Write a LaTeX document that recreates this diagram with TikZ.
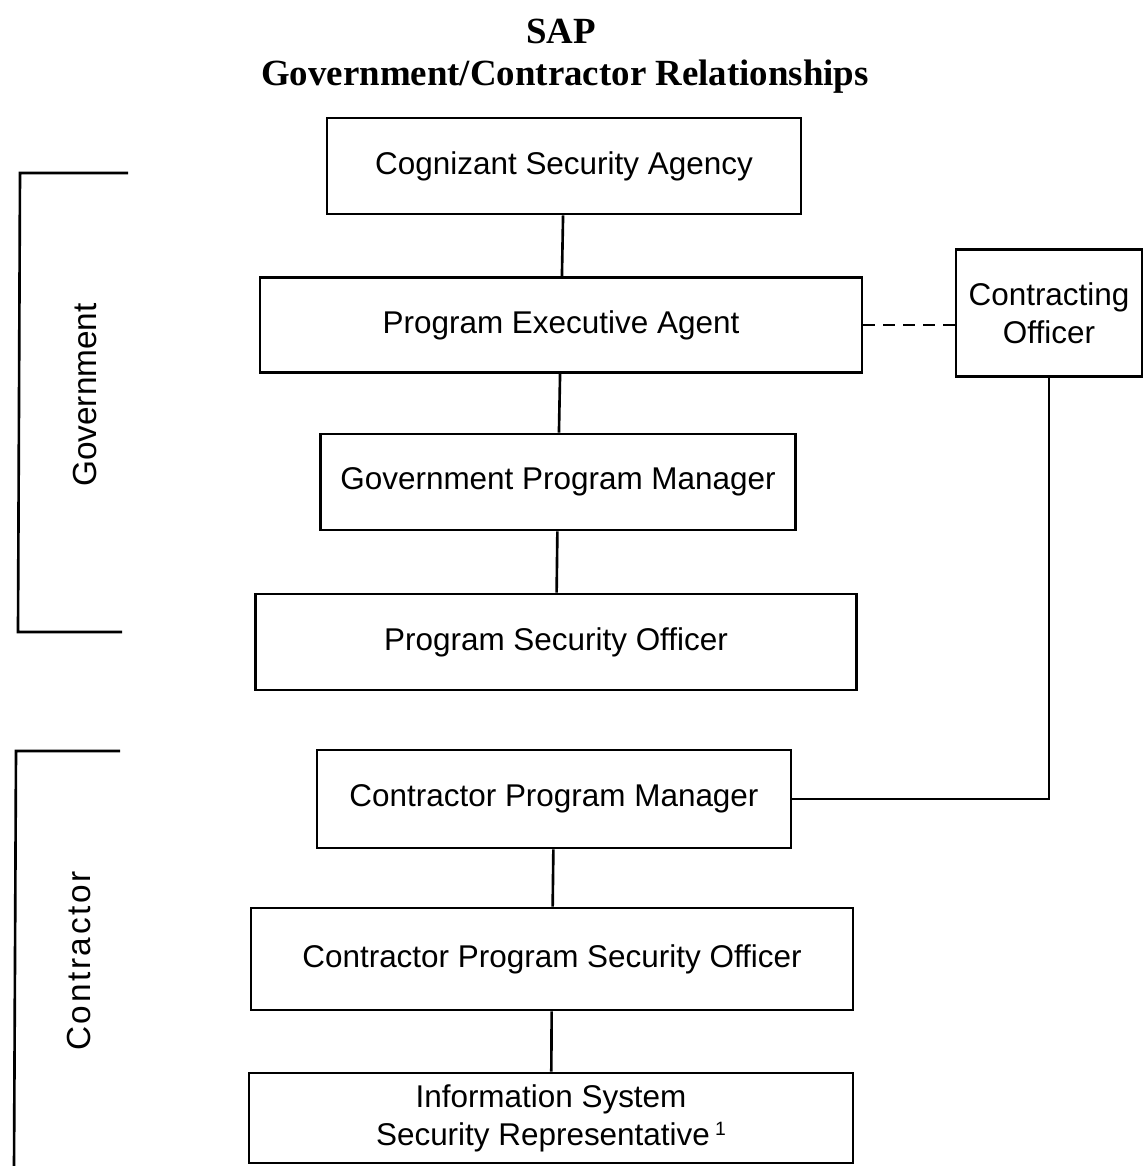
\documentclass[tikz,border=0pt]{standalone}
\usepackage{fontspec}
\setmainfont{Liberation Serif}
\setsansfont{Liberation Sans}

\begin{document}
\begin{tikzpicture}[x=0.02cm,y=-0.02cm,
    box/.style={draw,line width=1.5pt,inner sep=0pt,align=center,
      minimum height=1.92cm,font=\sffamily\fontsize{17.9}{21.5}\selectfont},
    link/.style={line width=1.5pt},
    side/.style={font=\sffamily\fontsize{19}{22}\selectfont,rotate=90},
    headline/.style={font=\bfseries\fontsize{21}{24}\selectfont}]
    %initialisation
    \useasboundingbox (0,0) rectangle (1143,1166);
    %titles
    \node[headline] (sap) at (561,31) {SAP};
    \node[headline] (rel) at (565,77) {Government/Contractor Relationships};
    %boxes
    \node[box,minimum width=9.48cm] (csa) at (564,166) {Cognizant Security Agency};
    \node[box,minimum width=12.04cm,minimum height=1.9cm] (pea) at (561,325) {Program Executive Agent};
    \node[box,minimum width=9.5cm] (gpm) at (558,482) {Government Program Manager};
    \node[box,minimum width=12.02cm] (pso) at (556,642) {Program Security Officer};
    \node[box,minimum width=9.48cm,minimum height=1.96cm] (cpm) at (554,799) {Contractor Program Manager};
    \node[box,minimum width=12.04cm,minimum height=2.04cm] (cpso) at (552,959) {Contractor Program Security Officer};
    \node[box,minimum width=12.08cm,minimum height=1.8cm] (issr) at (551,1118)
      {Information System\\Security Representative\,\raisebox{0.6ex}{\fontsize{11}{11}\selectfont 1}};
    \node[box,minimum width=3.72cm,minimum height=2.54cm] (co) at (1049,313) {Contracting\\Officer};
    %links
    \draw[link] (csa) -- (pea);
    \draw[link] (pea) -- (gpm);
    \draw[link] (gpm) -- (pso);
    \draw[link] (cpm) -- (cpso);
    \draw[link] (cpso) -- (issr);
    \draw[link,dash pattern=on 0.24cm off 0.16cm] (pea.east) -- (pea.east -| co.west);
    \draw[link] (co) |- (cpm);
    %brackets
    \draw[link] (128,173) -- (20,173) -- (18,632) -- (122,632);
    \draw[link] (120,751) -- (16,751) -- (14,1170);
    \node[side] (gov) at (85,395) {Government};
    \node[side] (con) at (79,961) {\addfontfeatures{LetterSpace=8}Contractor};
\end{tikzpicture}
\end{document}
